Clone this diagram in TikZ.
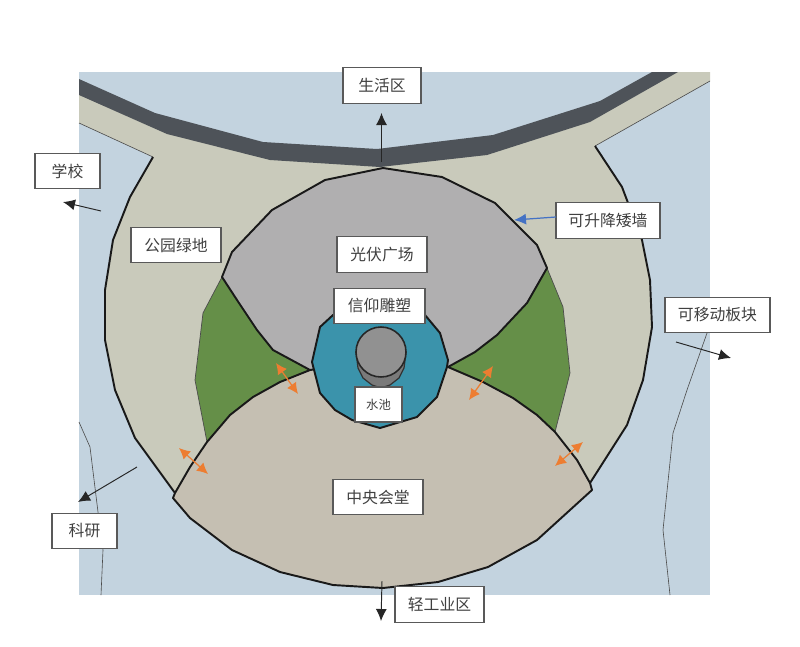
\documentclass[tikz,border=0pt]{standalone}
\usepackage{fontspec}
\setmainfont{Noto Sans CJK SC}
\usetikzlibrary{arrows.meta}
\definecolor{sky}{HTML}{C3D3DF}
\definecolor{park}{HTML}{C9CABB}
\definecolor{road}{HTML}{4E5359}
\definecolor{plaza}{HTML}{B0AFB0}
\definecolor{lawn}{HTML}{658F48}
\definecolor{pond}{HTML}{3B93AB}
\definecolor{hall}{HTML}{C5BFB2}
\definecolor{orangearrow}{HTML}{ED7D31}
\definecolor{bluearrow}{HTML}{4472C4}
\tikzset{
  wall/.style={draw=black!90,line width=1.1pt,line join=round},
  thinline/.style={draw=black!70,line width=0.35pt},
  label/.style={draw=black!65,line width=0.6pt,fill=white,text=black!75,font=\fontsize{9}{11}\selectfont,inner sep=0pt},
  smalllabel/.style={label,font=\fontsize{7}{9}\selectfont},
  blackarrow/.style={draw=black!85,line width=0.55pt,-{Latex[length=0.24cm,width=0.22cm]}},
  swing/.style={draw=orangearrow,line width=0.7pt,{Latex[length=0.22cm,width=0.22cm]}-{Latex[length=0.22cm,width=0.22cm]}}
}
\begin{document}
\begin{tikzpicture}[x=0.02cm,y=-0.02cm]
\useasboundingbox (0,0) rectangle (800,646);

\fill[sky] (79,72) rectangle (710,595);

% park
\fill[park] (79,90) -- (79,123) -- (153,157) -- (130,197) -- (113,240) -- (105,290) -- (105,340) -- (115,390) -- (135,438) -- (175,493)
 -- (590,483) -- (627,425) -- (643,380) -- (652,327) -- (650,280) -- (642,240) -- (622,187) -- (595,146) -- (710,81) -- (710,72) -- (665,72)
 -- (590,115) -- (487,148) -- (380,160) -- (270,152) -- (167,125) -- cycle;
\draw[thinline] (79,123) -- (153,157);
\draw[thinline] (710,81) -- (595,146);
\draw[wall] (153,157) -- (130,197) -- (113,240) -- (105,290) -- (105,340) -- (115,390) -- (135,438) -- (175,493);
\draw[wall] (595,146) -- (622,187) -- (642,240) -- (650,280) -- (652,327) -- (643,380) -- (627,425) -- (590,483);

% road
\fill[road] (79,79) -- (155,113) -- (263,142) -- (377,149) -- (493,135) -- (600,101) -- (652,72) -- (678,72) -- (590,122) -- (487,155) -- (380,167) -- (270,160) -- (167,134) -- (79,95) -- cycle;

% green
\filldraw[fill=lawn,draw=black!70,line width=0.4pt] (222,277) -- (203,313) -- (195,380) -- (207,442) -- (230,415) -- (253,397) -- (280,382) -- (310,370) -- cycle;
\filldraw[fill=lawn,draw=black!70,line width=0.4pt] (547,268) -- (563,307) -- (570,373) -- (555,432) -- (537,415) -- (513,398) -- (483,382) -- (448,367) -- cycle;

% plaza
\filldraw[fill=plaza,wall] (383,168) -- (325,180) -- (272,210) -- (232,252) -- (222,277) -- (237,300) -- (257,330) -- (273,350) -- (310,370) -- (448,367)
 -- (475,352) -- (497,335) -- (527,303) -- (547,268) -- (537,245) -- (495,203) -- (442,177) -- cycle;

% hall
\filldraw[fill=hall,wall] (173,498) -- (190,518) -- (232,550) -- (280,572) -- (333,585) -- (383,588) -- (438,582) -- (488,567) -- (537,540) -- (592,490)
 -- (590,483) -- (577,460) -- (555,432) -- (537,415) -- (513,398) -- (483,382) -- (448,367) -- (380,360) -- (310,370) -- (280,382) -- (253,397) -- (230,415) -- (207,442) -- (190,467) -- (175,493) -- cycle;

% pond
\filldraw[fill=pond,wall] (312,362) -- (320,327) -- (333,315) -- (380,303) -- (425,315) -- (440,333) -- (448,360) -- (447,367) -- (437,397) -- (417,417) -- (380,428) -- (352,420) -- (335,410) -- (320,393) -- cycle;

% sculpture
\filldraw[fill=black!52,draw=black!80,line width=0.7pt] (356,352) -- (358,368) -- (363,378) -- (372,385) -- (381,388) -- (390,385) -- (399,378) -- (404,368) -- (406,352) -- cycle;
\filldraw[fill=black!43,draw=black!85,line width=0.9pt] (381,352) circle (0.5cm);

% thin lines
\draw[thinline] (79,422) -- (90,447) -- (98,512) -- (103,550) -- (101,595);
\draw[thinline] (707,333) -- (687,390) -- (673,433) -- (663,530) -- (670,595);

% labels
\foreach \n/\x/\y/\w/\t in {live/382/85.5/78/生活区,school/67.5/171/65/学校,green/176/245/90/公园绿地,
  square/382/254.5/90/光伏广场,statue/379.5/306/91/信仰雕塑,wallbox/608/220.5/104/可升降矮墙,
  board/717.5/315/105/可移动板块,center/378/497/90/中央会堂,lab/84.5/531/65/科研,light/439.5/604.5/89/轻工业区}{
  \node[label,minimum width=\w*0.02cm,minimum height=0.71cm] (\n) at (\x,\y) {\t};
}
\node[smalllabel,minimum width=0.94cm,minimum height=0.7cm] (water) at (378.5,404.5) {水池};

% arrows
\coordinate (a1) at (381.5,162); \coordinate (a2) at (381.5,113);
\coordinate (b1) at (101,211); \coordinate (b2) at (63,202);
\coordinate (c1) at (676,342); \coordinate (c2) at (731,358);
\coordinate (d1) at (137,467); \coordinate (d2) at (78,502);
\coordinate (e1) at (382,581); \coordinate (e2) at (381,621);
\coordinate (f1) at (556,217); \coordinate (f2) at (514,220);
\foreach \s/\e in {a1/a2,b1/b2,c1/c2,d1/d2,e1/e2}{
  \draw[blackarrow] (\s) -- (\e);
}
\draw[draw=bluearrow,line width=0.7pt,-{Latex[length=0.24cm,width=0.22cm]}] (f1) -- (f2);

\coordinate (p1) at (276,363); \coordinate (p2) at (298,394);
\coordinate (q1) at (179,448); \coordinate (q2) at (208,474);
\coordinate (r1) at (493,366); \coordinate (r2) at (469,400);
\coordinate (u1) at (583,442); \coordinate (u2) at (555,466);
\foreach \s/\e in {p1/p2,q1/q2,r1/r2,u1/u2}{
  \draw[swing] (\s) -- (\e);
}
\end{tikzpicture}
\end{document}
